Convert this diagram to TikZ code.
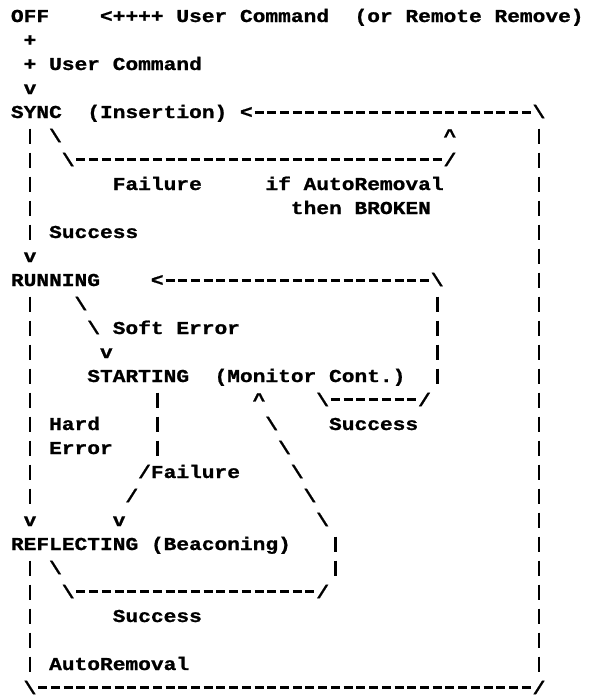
\documentclass[tikz,border=0pt]{standalone}
\usepackage{fontspec}
\newfontfamily\asciifont{Liberation Mono}[FakeStretch=1.1653, FakeBold=1]
\newcommand\bs{\textbackslash}
\newcommand\rail[2]{\foreach \r in {#2}{\draw[bar] (#1+0.5,\r-0.5625) -- (#1+0.5,\r+0.0625);}}
\tikzset{
  ch/.style={anchor=base west, inner sep=0pt, outer sep=0pt,
    font=\asciifont\bfseries\fontsize{18.2}{24}\selectfont},
  hdash/.style={line width=2.6pt, dash pattern=on 9pt off 3.725pt, dash phase=10.86pt},
  bar/.style={line width=2.6pt},
}
\frenchspacing
\begin{document}
\begin{tikzpicture}[x=12.725pt, y=-24pt]
\useasboundingbox (0,0) rectangle (46.365,29.125);
\begin{scope}[shift={(0.86,0.9167)}, every node/.style={ch}]
% states
\node (off) at (0,0) {OFF};
\node (sync) at (0,4) {SYNC};
\node (insertion) at (6,4) {(Insertion)};
\node (running) at (0,11) {RUNNING};
\node (starting) at (6,15) {STARTING};
\node (monitor) at (16,15) {(Monitor Cont.)};
\node (reflecting) at (0,22) {REFLECTING (Beaconing)};
% labels
\node (cmdoff) at (7,0) {<++++ User Command};
\node (remote) at (27,0) {(or Remote Remove)};
\node (cmdsync) at (1,2) {+ User Command};
\node (failsync) at (8,7) {Failure};
\node (autoif) at (20,7) {if AutoRemoval};
\node (autothen) at (22,8) {then BROKEN};
\node (okrun) at (3,9) {Success};
\node (soft) at (6,13) {\bs{} Soft Error};
\node (okmon) at (25,17) {Success};
\node (hard) at (3,17) {Hard};
\node (harderr) at (3,18) {Error};
\node (failstart) at (10,19) {/Failure};
\node (okrefl) at (8,25) {Success};
\node (autorefl) at (3,27) {AutoRemoval};
% OFF -> SYNC
\node (p1) at (1,1) {+};
\node (a1) at (1,3) {v};
% SYNC loop and return line
\node (syncin) at (18,4) {<};
\node (syncout) at (41,4) {\bs};
\draw[hdash] (syncin.east) -- (syncin.east -| syncout.west);
\node (d1) at (3,5) {\bs};
\node (u1) at (34,5) {\textasciicircum};
\node (sl1) at (4,6) {\bs};
\node (sl2) at (34,6) {/};
\draw[hdash] (sl1.east) -- (sl1.east -| sl2.west);
\node (a2) at (1,10) {v};
% RUNNING
\node (runin) at (11,11) {<};
\node (runout) at (33,11) {\bs};
\draw[hdash] (runin.east) -- (runin.east -| runout.west);
\node (d2) at (5,12) {\bs};
\node (a3) at (7,14) {v};
\node (ml1) at (24,16) {\bs};
\node (ml2) at (32,16) {/};
\draw[hdash] (ml1.east) -- (ml1.east -| ml2.west);
% STARTING -> REFLECTING
\node (s2) at (9,20) {/};
\node (a4) at (8,21) {v};
\node (a5) at (1,21) {v};
% REFLECTING -> STARTING
\node (u2) at (19,16) {\textasciicircum};
\foreach \r/\c in {17/20,18/21,19/22,20/23,21/24}
  \node (rd\r) at (\c,\r) {\bs};
\node (d3) at (3,23) {\bs};
\node (rl1) at (4,24) {\bs};
\node (rl2) at (24,24) {/};
\draw[hdash] (rl1.east) -- (rl1.east -| rl2.west);
% outer return line
\node (bl) at (1,28) {\bs};
\node (br) at (41,28) {/};
\draw[hdash] (bl.east) -- (bl.east -| br.west);
% rails
\rail{1}{5,...,9}
\rail{1}{12,...,20}
\rail{1}{23,...,27}
\rail{41}{5,...,27}
\rail{33}{12,...,15}
\rail{11}{16,17,18}
\rail{25}{22,23}
\end{scope}
\end{tikzpicture}
\end{document}
